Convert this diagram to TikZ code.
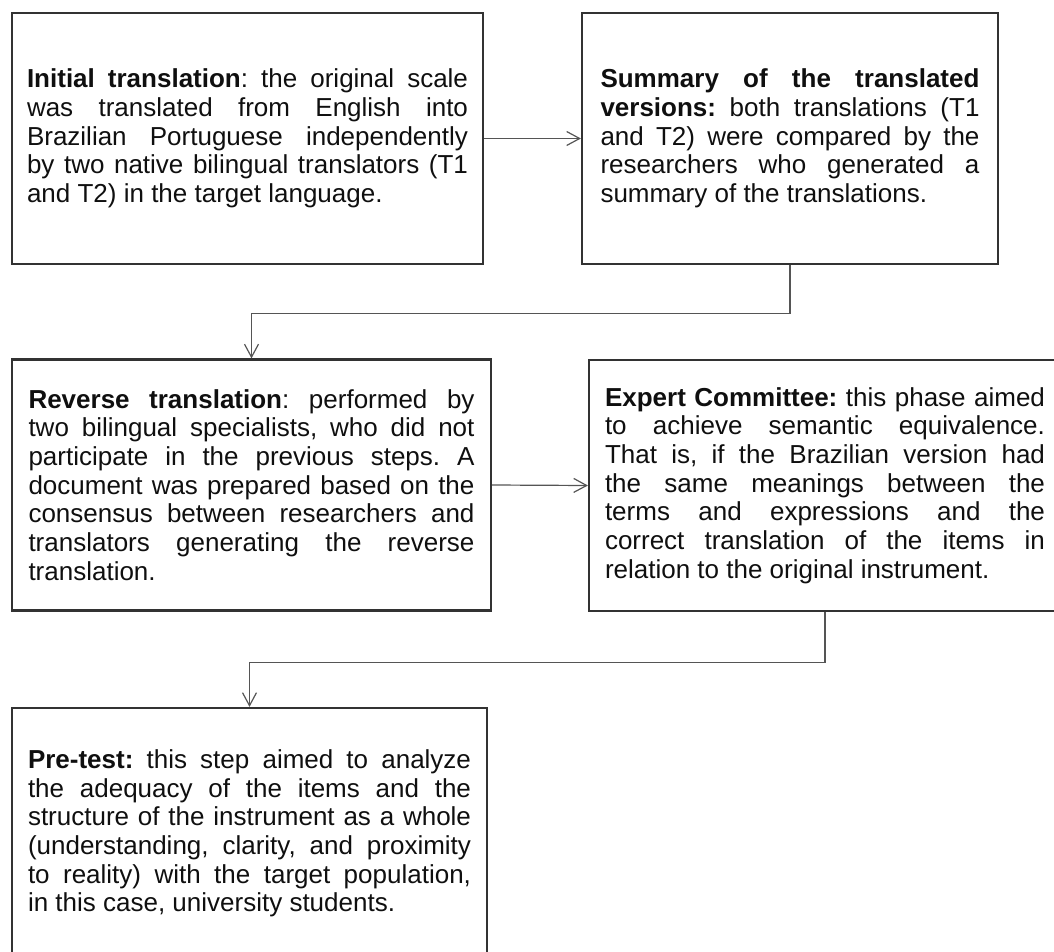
\documentclass[tikz,border=0pt]{standalone}
\usepackage{fontspec}
\setmainfont{Liberation Sans}
\usepackage{tikz}
\usetikzlibrary{arrows.meta,positioning}
\definecolor{StepLine}{RGB}{50,50,50}
\definecolor{FlowGray}{RGB}{85,85,85}
\definecolor{StepText}{RGB}{15,15,15}
\tolerance=10000
\hyphenpenalty=10000
\frenchspacing

\begin{document}
\begin{tikzpicture}[x=0.5pt,y=-0.5pt,>={Straight Barb[length=6.5pt,width=7pt]},
  stepbox/.style={draw=StepLine,line width=1.1pt,minimum height=125.5pt,inner xsep=0pt,inner ysep=0pt,align=justify,text=StepText,font=\fontsize{13}{14.35}\selectfont},
  flow/.style={->,draw=FlowGray,line width=0.6pt}]
\useasboundingbox (0,0) rectangle (1054,952);
\node[stepbox,text width=220.5pt,minimum width=235.5pt] (init) at (247.5,138.5) {\textbf{Initial translation}: the original scale\linebreak was translated from English into\linebreak Brazilian Portuguese independently\linebreak by two native bilingual translators (T1\linebreak and T2) in the target language.};
\node[stepbox,text width=189.5pt,minimum width=208pt] (summ) at (790,138.5) {\textbf{Summary of the translated\linebreak versions:} both translations (T1\linebreak and T2) were compared by the\linebreak researchers who generated a\linebreak summary of the translations.};
\node[stepbox,text width=223pt,minimum width=239.5pt] (rev) at (251.5,485) {\textbf{Reverse translation}: performed by\linebreak two bilingual specialists, who did not\linebreak participate in the previous steps. A\linebreak document was prepared based on the\linebreak consensus between researchers and\linebreak translators generating the reverse\linebreak translation.};
\node[stepbox,text width=220pt,minimum width=236pt] (expert) at (825,485.5) {\textbf{Expert Committee:} this phase aimed\linebreak to achieve semantic equivalence.\linebreak That is, if the Brazilian version had\linebreak the same meanings between the\linebreak terms and expressions and the\linebreak correct translation of the items in\linebreak relation to the original instrument.};
\node[stepbox,text width=221.5pt,minimum width=237.5pt] (pretest) at (249.5,833.5) {\textbf{Pre-test:} this step aimed to analyze\linebreak the adequacy of the items and the\linebreak structure of the instrument as a whole\linebreak (understanding, clarity, and proximity\linebreak to reality) with the target population,\linebreak in this case, university students.};
\draw[flow] (init.east) -- (summ.west);
\draw[flow] (summ.south) -- ++(0,48) -| (rev.north);
\draw[flow] (rev.east) -- (expert.west);
\draw[flow] (expert.south) -- ++(0,50) -| (pretest.north);
\end{tikzpicture}
\end{document}
